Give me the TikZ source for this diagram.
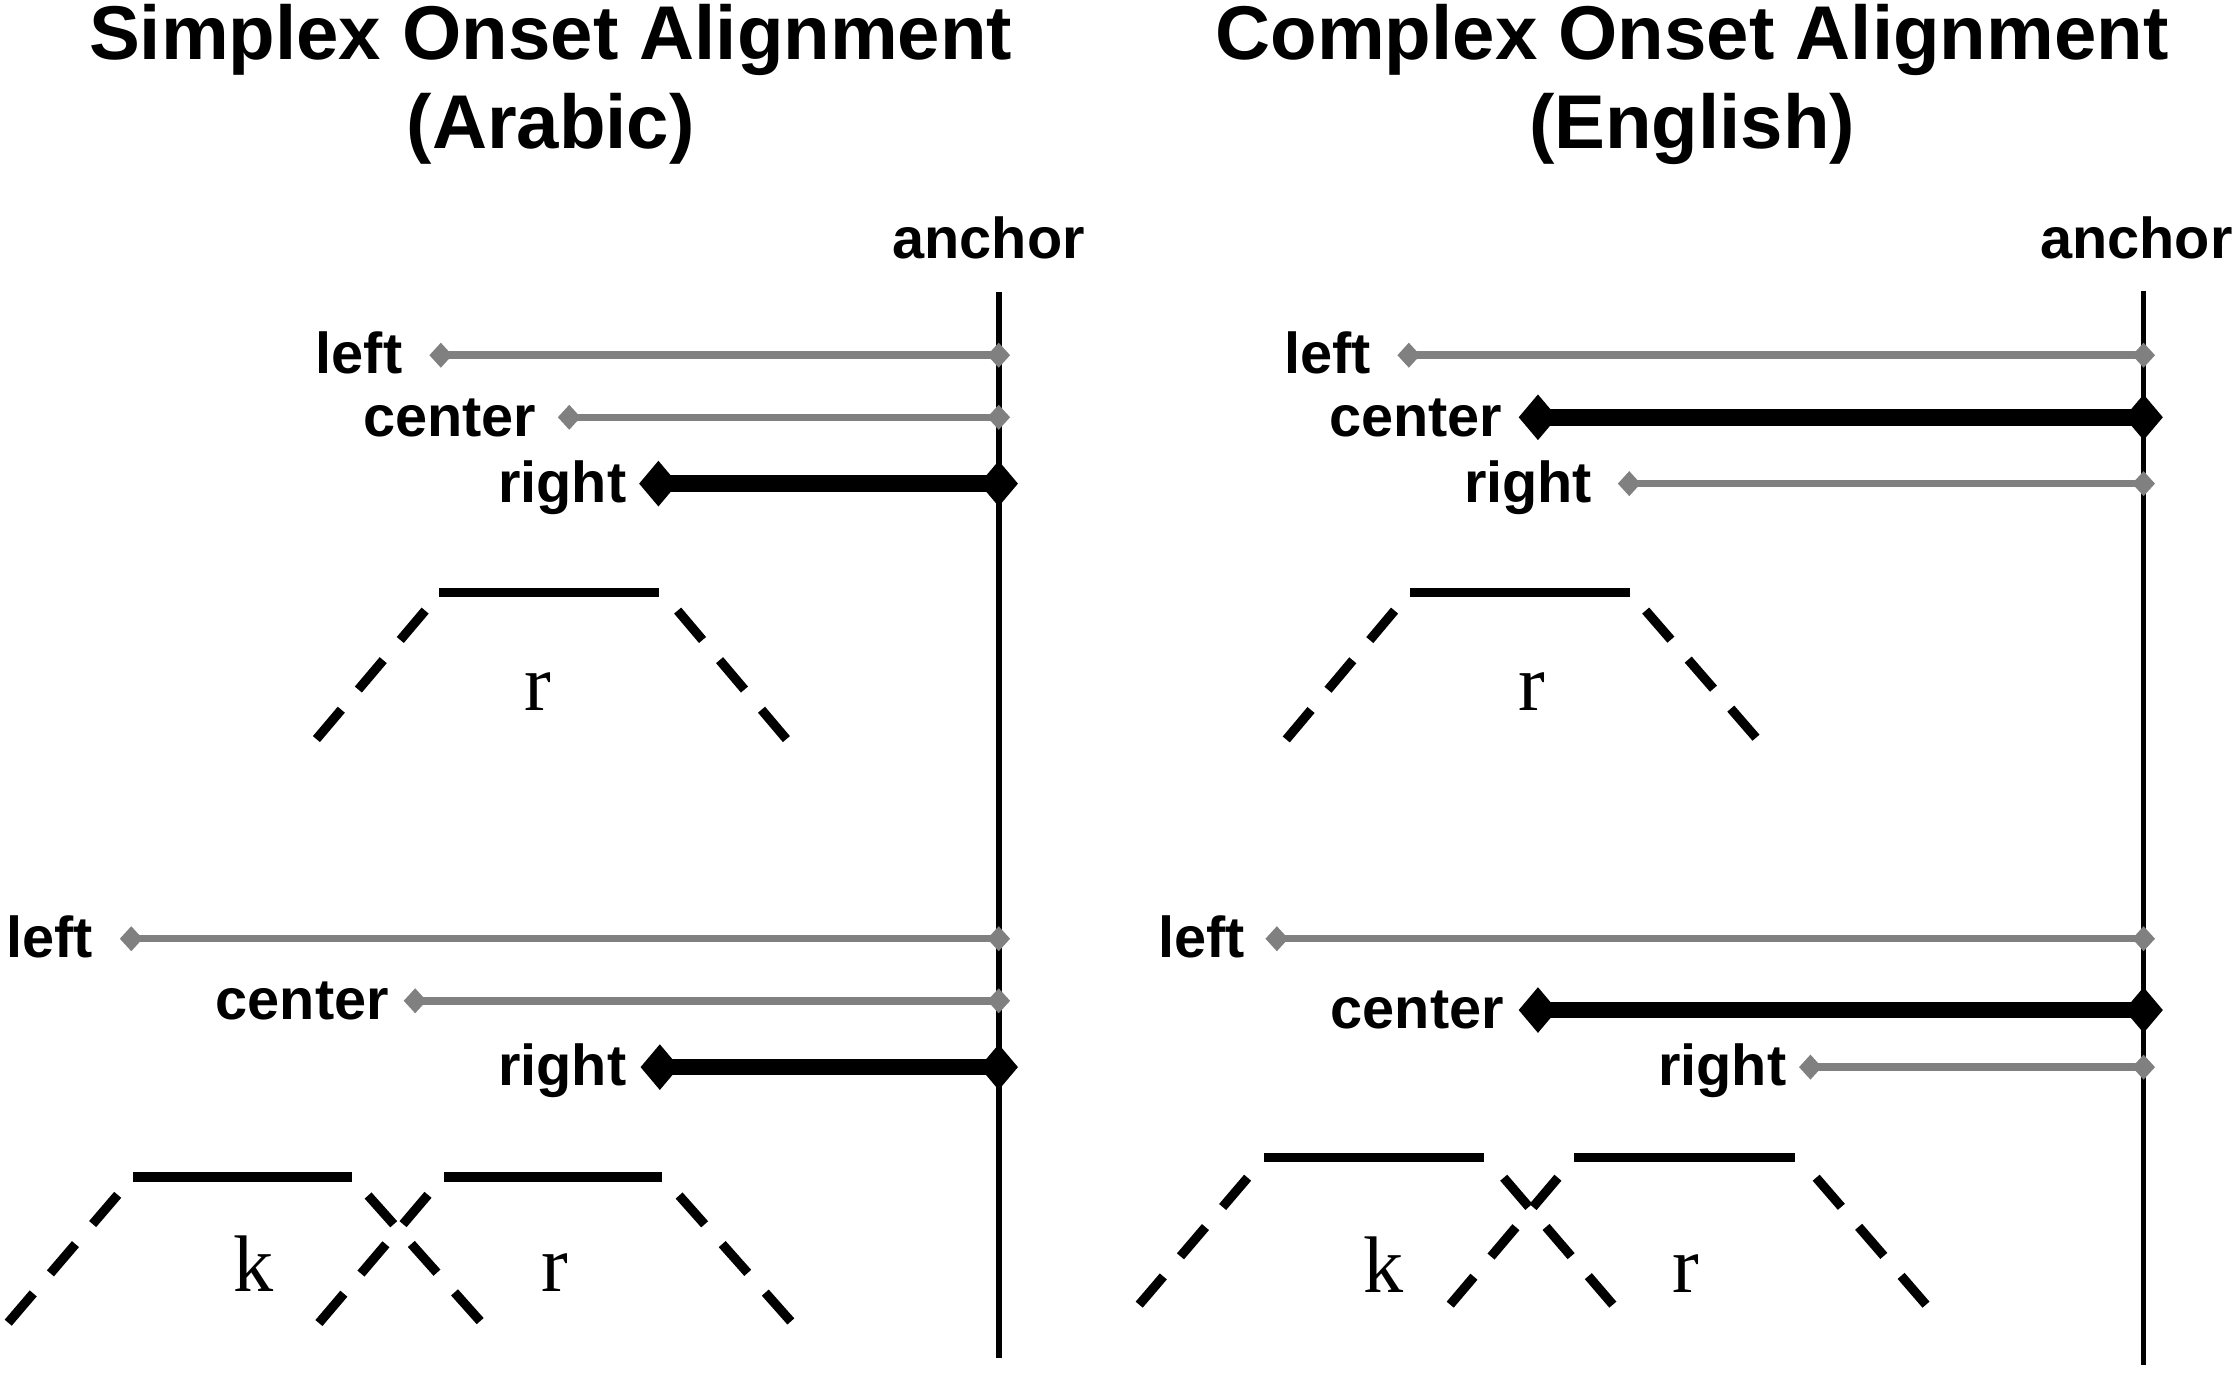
\documentclass[tikz,border=0pt]{standalone}
\usepackage{fontspec}
\setmainfont{Liberation Sans}
\newfontfamily\segfont{Liberation Serif}
\usetikzlibrary{arrows.meta}

\begin{document}
\begin{tikzpicture}
\tikzset{ inner sep=0pt, outer sep=0pt,
  ttl/.style={font=\fontsize{30.4}{36}\selectfont\bfseries, anchor=base},
  lab/.style={font=\fontsize{23}{27}\selectfont\bfseries, anchor=base east},
  anclab/.style={font=\fontsize{23}{27}\selectfont\bfseries, anchor=base},
  seg/.style={font=\fontsize{32}{38}\selectfont\segfont, anchor=base},
  anc/.style={line width=2.3pt},
  galign/.style={draw=black!50, line width=3pt,
    {Diamond[length=0.32cm,width=0.35cm,line width=0pt]}-{Diamond[length=0.32cm,width=0.35cm,line width=0pt]}},
  balign/.style={draw=black, line width=6.6pt,
    {Diamond[length=0.54cm,width=0.64cm,line width=0pt]}-{Diamond[length=0.54cm,width=0.64cm,line width=0pt]}},
  bar/.style={line width=3.6pt},
  leg/.style={line width=3.7pt, dash pattern=on 0.54cm off 0.37cm},
}

\useasboundingbox (0,0) rectangle (31.36,19.32);

%\draw [lightgray, dashed](0,0) grid (31,19);

% titles
\node [ttl] (sT1) at (7.72,18.48) {Simplex Onset Alignment};
\node [ttl] (sT2) at (7.72,17.24) {(Arabic)};
\node [ttl] (cT1) at (23.72,18.48) {Complex Onset Alignment};
\node [ttl] (cT2) at (23.72,17.24) {(English)};

% anchors
\node [anclab] (sAnc) at (13.86,15.70) {anchor};
\node [anclab] (cAnc) at (29.95,15.70) {anchor};
\coordinate (sTop) at (14.00,15.22);
\coordinate (sBot) at (14.00,0.28);
\coordinate (cTop) at (30.05,15.24);
\coordinate (cBot) at (30.05,0.18);
\draw [anc] (sTop) -- (sBot);
\draw [anc] (cTop) -- (cBot);

%%% Simplex, upper: r
\node [lab] (sl1) at (5.64,14.08) {left};
\node [lab] (sc1) at (7.52,13.20) {center};
\node [lab] (sr1) at (8.78,12.28) {right};
\coordinate (sL1) at (6.02,14.34);  \coordinate (sAL1) at (14.16,14.34);
\coordinate (sC1) at (7.82,13.47);  \coordinate (sAC1) at (14.16,13.47);
\coordinate (sR1) at (8.96,12.54);  \coordinate (sAR1) at (14.27,12.54);
\draw [galign] (sL1) -- (sAL1);
\draw [galign] (sC1) -- (sAC1);
\draw [balign] (sR1) -- (sAR1);

\draw [bar] (6.16,11.01) -- (9.24,11.01);
\draw [leg] (5.96,10.76) -- (4.42,8.94);
\draw [leg] (9.50,10.76) -- (11.04,8.94);
\node [seg] (sr) at (7.54,9.36) {r};

%%% Simplex, lower: k r
\node [lab] (sl2) at (1.30,5.90) {left};
\node [lab] (sc2) at (5.45,5.03) {center};
\node [lab] (sr2) at (8.78,4.10) {right};
\coordinate (sL2) at (1.68,6.16);  \coordinate (sAL2) at (14.16,6.16);
\coordinate (sC2) at (5.66,5.29);  \coordinate (sAC2) at (14.16,5.29);
\coordinate (sR2) at (8.98,4.36);  \coordinate (sAR2) at (14.27,4.36);
\draw [galign] (sL2) -- (sAL2);
\draw [galign] (sC2) -- (sAC2);
\draw [balign] (sR2) -- (sAR2);

\draw [bar] (1.87,2.82) -- (4.93,2.82);
\draw [bar] (6.22,2.82) -- (9.28,2.82);
\draw [leg] (1.65,2.57) -- (0.10,0.76);
\draw [leg] (5.16,2.56) -- (6.74,0.79);
\draw [leg] (6.00,2.57) -- (4.46,0.76);
\draw [leg] (9.52,2.56) -- (11.10,0.78);
\node [seg] (sk2) at (3.55,1.22) {k};
\node [seg] (sr2b) at (7.78,1.22) {r};

%%% Complex, upper: r
\node [lab] (cl1) at (19.22,14.08) {left};
\node [lab] (cc1) at (21.06,13.20) {center};
\node [lab] (cr1) at (22.32,12.28) {right};
\coordinate (cL1) at (19.59,14.34);  \coordinate (cAL1) at (30.21,14.34);
\coordinate (cC1) at (21.29,13.47);  \coordinate (cAC1) at (30.32,13.47);
\coordinate (cR1) at (22.68,12.54);  \coordinate (cAR1) at (30.21,12.54);
\draw [galign] (cL1) -- (cAL1);
\draw [balign] (cC1) -- (cAC1);
\draw [galign] (cR1) -- (cAR1);

\draw [bar] (19.77,11.01) -- (22.85,11.01);
\draw [leg] (19.55,10.76) -- (18.02,8.94);
\draw [leg] (23.07,10.76) -- (24.65,8.94);
\node [seg] (cr) at (21.47,9.36) {r};

%%% Complex, lower: k r
\node [lab] (cl2) at (17.45,5.90) {left};
\node [lab] (cc2) at (21.08,4.90) {center};
\node [lab] (cr2) at (25.04,4.10) {right};
\coordinate (cL2) at (17.74,6.16);  \coordinate (cAL2) at (30.21,6.16);
\coordinate (cC2) at (21.29,5.16);  \coordinate (cAC2) at (30.32,5.16);
\coordinate (cR2) at (25.22,4.36);  \coordinate (cAR2) at (30.21,4.36);
\draw [galign] (cL2) -- (cAL2);
\draw [balign] (cC2) -- (cAC2);
\draw [galign] (cR2) -- (cAR2);

\draw [bar] (17.72,3.09) -- (20.80,3.09);
\draw [bar] (22.07,3.09) -- (25.16,3.09);
\draw [leg] (17.49,2.81) -- (15.97,1.03);
\draw [leg] (21.08,2.81) -- (22.61,1.03);
\draw [leg] (21.84,2.81) -- (20.33,1.03);
\draw [leg] (25.46,2.81) -- (27.00,1.03);
\node [seg] (ck2) at (19.39,1.20) {k};
\node [seg] (cr2b) at (23.63,1.20) {r};

\end{tikzpicture}
\end{document}
